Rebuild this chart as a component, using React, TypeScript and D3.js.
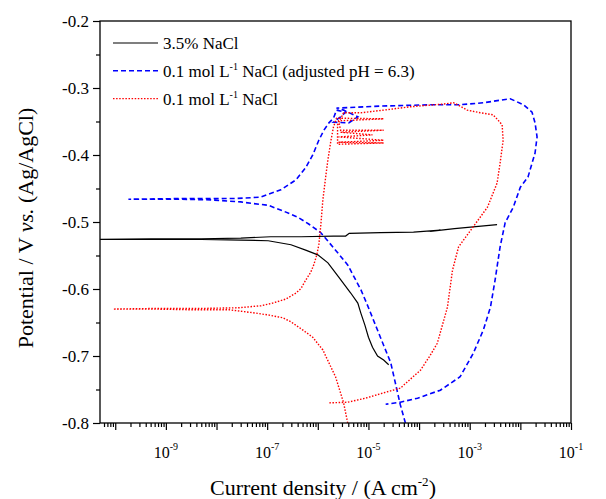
import * as d3 from 'd3';
import React, { useEffect, useRef } from 'react';

const W = 606;
const H = 499;
const margin = { top: 21, right: 35, bottom: 76, left: 100 };

// 3.5% NaCl (log10 of current density, potential V)
const blackLogI = [-4.60, -4.70, -4.82, -4.92, -5.00, -5.07, -5.15, -5.21, -5.35, -5.59, -5.80, -6.00, -6.24, -6.53, -6.98, -7.52, -8.30, -9.29, -10.3,
  -9.29, -8.30, -7.52, -6.93, -6.33, -5.69, -5.45, -5.38, -4.76, -4.11, -3.58, -3.78, -3.30, -2.46];
const blackE = [-0.713, -0.706, -0.700, -0.687, -0.672, -0.654, -0.636, -0.621, -0.606, -0.582, -0.561, -0.549, -0.542, -0.534, -0.528, -0.527, -0.526, -0.526, -0.526,
  -0.525, -0.525, -0.524, -0.522, -0.522, -0.521, -0.521, -0.517, -0.516, -0.515, -0.512, -0.514, -0.510, -0.504];

// 0.1 mol/L NaCl, adjusted pH = 6.3
const blueLogI = [-4.27, -4.37, -4.46, -4.56, -4.70, -4.86, -5.02, -5.15, -5.41, -5.65, -5.94, -6.18, -6.39, -6.67, -6.98, -7.32, -7.52, -8.11, -8.70, -9.74,
  -8.70, -7.65, -7.14, -6.73, -6.43, -6.24, -6.10, -5.98, -5.88, -5.78, -5.69,
  -5.63, -5.45, -5.55, -5.69, -5.39, -5.21, -5.49, -5.63,
  -4.76, -3.78, -3.19, -2.73, -2.20, -1.94, -1.77, -1.71, -1.67, -1.71, -1.85, -2.00, -2.14, -2.30, -2.40, -2.50, -2.59, -2.73, -2.93, -3.19, -3.58, -4.03, -4.37, -4.66];
const blueE = [-0.800, -0.773, -0.743, -0.710, -0.684, -0.654, -0.624, -0.601, -0.564, -0.542, -0.516, -0.503, -0.493, -0.484, -0.475, -0.472, -0.470, -0.467, -0.466, -0.466,
  -0.465, -0.465, -0.463, -0.452, -0.437, -0.419, -0.400, -0.378, -0.363, -0.352, -0.345,
  -0.333, -0.336, -0.343, -0.351, -0.352, -0.343, -0.333, -0.330,
  -0.327, -0.325, -0.325, -0.322, -0.316, -0.325, -0.336, -0.352, -0.373, -0.397, -0.433, -0.448, -0.478, -0.501, -0.537, -0.587, -0.627, -0.661, -0.696, -0.731, -0.751, -0.763, -0.769, -0.772];

// 0.1 mol/L NaCl
const redLogI = [-5.41, -5.49, -5.65, -5.90, -6.10, -6.30, -6.53, -6.69, -6.96, -7.22, -7.75, -8.50, -9.19, -10.04,
  -9.19, -8.30, -7.56, -7.12, -6.89, -6.63, -6.43, -6.33, -6.24, -6.14, -6.08, -6.02, -5.98, -5.94, -5.90, -5.84, -5.80, -5.74, -5.69, -5.63,
  -4.70, -5.59, -5.55, -4.70, -5.55, -4.92, -5.59, -4.70, -5.59, -4.70, -5.61, -5.61, -5.49,
  -5.15, -4.70, -4.17, -3.52, -3.32, -3.19, -3.05, -2.79, -2.54, -2.44, -2.36, -2.34, -2.40, -2.46, -2.65, -2.93, -3.22, -3.34, -3.44, -3.64, -3.78, -3.97, -4.37, -4.70, -5.06, -5.41, -5.80];
const redE = [-0.800, -0.770, -0.731, -0.691, -0.672, -0.661, -0.649, -0.643, -0.639, -0.636, -0.631, -0.631, -0.630, -0.630,
  -0.629, -0.629, -0.628, -0.625, -0.621, -0.615, -0.606, -0.599, -0.587, -0.575, -0.564, -0.549, -0.534, -0.504, -0.467, -0.430, -0.407, -0.378, -0.358, -0.345,
  -0.346, -0.349, -0.363, -0.363, -0.366, -0.370, -0.373, -0.378, -0.381, -0.382, -0.384, -0.355, -0.337,
  -0.337, -0.333, -0.328, -0.324, -0.322, -0.327, -0.333, -0.337, -0.340, -0.348, -0.355, -0.378, -0.412, -0.442, -0.478, -0.507, -0.537, -0.572, -0.627, -0.681, -0.699, -0.721, -0.748, -0.755, -0.763, -0.769, -0.770];

const yTicks = [-0.8, -0.7, -0.6, -0.5, -0.4, -0.3, -0.2];
const yMinor = [-0.75, -0.65, -0.55, -0.45, -0.35, -0.25];
const xDecades = [-10, -9, -8, -7, -6, -5, -4, -3, -2, -1];
const xLabelled = [-9, -7, -5, -3, -1];

const FONT = '"Liberation Serif", "Times New Roman", serif';

export default function App() {
  const ref = useRef<SVGSVGElement>(null);

  useEffect(() => {
    const svg = d3.select(ref.current);
    svg.selectAll('*').remove();
    svg.attr('font-family', FONT);
    const width = W - margin.left - margin.right;
    const height = H - margin.top - margin.bottom;
    const g = svg.append('g').attr('transform', `translate(${margin.left},${margin.top})`);

    const x = d3.scaleLog().domain([5e-11, 1e-1]).range([0, width]);
    const y = d3.scaleLinear().domain([-0.8, -0.2]).range([height, 0]);

    g.append('clipPath').attr('id', 'plotClip')
      .append('rect').attr('width', width).attr('height', height);

    const line = d3.line<number[]>()
      .x(d => x(Math.pow(10, d[0])))
      .y(d => y(d[1]));

    const series = [
      { logI: blackLogI, E: blackE, color: '#000000', dash: null, w: 1.2 },
      { logI: blueLogI, E: blueE, color: '#0000ff', dash: '5,3', w: 1.6 },
      { logI: redLogI, E: redE, color: '#ff0000', dash: '1.5,1.6', w: 1.4 },
    ];

    series.forEach(s => {
      g.append('path')
        .datum(d3.zip(s.logI, s.E))
        .attr('clip-path', 'url(#plotClip)')
        .attr('fill', 'none')
        .attr('stroke', s.color)
        .attr('stroke-width', s.w)
        .attr('stroke-dasharray', s.dash)
        .attr('d', line);
    });

    // x axis
    const minors: number[] = [];
    for (let e = -11; e <= -2; e++) {
      for (let m = 2; m <= 9; m++) {
        const v = m * Math.pow(10, e);
        if (v > 5.01e-11 && v < 0.1) minors.push(v);
      }
    }
    const xAxis = g.append('g').attr('transform', `translate(0,${height})`);
    xAxis.call(d3.axisBottom(x).tickValues(xDecades.map(e => Math.pow(10, e))).tickSize(7).tickFormat(() => ''));
    xAxis.append('g').call(d3.axisBottom(x).tickValues(minors).tickSize(4).tickFormat(() => ''));
    xAxis.selectAll('.domain').remove();
    xAxis.selectAll('line').attr('stroke', '#000').attr('stroke-width', 1.2);

    xLabelled.forEach(e => {
      const t = g.append('text')
        .attr('x', x(Math.pow(10, e)))
        .attr('y', height + 35)
        .attr('text-anchor', 'middle')
        .style('font-family', FONT)
        .style('font-size', '16px')
        .attr('fill', '#000');
      t.append('tspan').text('10');
      t.append('tspan').style('font-size', '10px').attr('dy', -8).text(String(e));
    });

    // y axis
    const yAxis = g.append('g');
    yAxis.call(d3.axisLeft(y).tickValues(yTicks).tickSize(7).tickFormat(d => (+d).toFixed(1)));
    yAxis.append('g').call(d3.axisLeft(y).tickValues(yMinor).tickSize(4).tickFormat(() => ''));
    yAxis.attr('font-family', FONT);
    yAxis.selectAll('.domain').remove();
    yAxis.selectAll('line').attr('stroke', '#000').attr('stroke-width', 1.2);
    yAxis.selectAll('text')
      .style('font-family', FONT)
      .style('font-size', '17px')
      .attr('fill', '#000')
      .attr('x', -11);

    // frame
    g.append('rect')
      .attr('width', width).attr('height', height)
      .attr('fill', 'none').attr('stroke', '#000').attr('stroke-width', 1.3);

    // axis titles
    const xt = svg.append('text')
      .attr('x', 323).attr('y', 495)
      .attr('text-anchor', 'middle')
      .style('font-family', FONT).style('font-size', '22px').attr('fill', '#000');
    xt.append('tspan').text('Current density / (A cm');
    xt.append('tspan').style('font-size', '13px').attr('dy', -9).text('-2');
    xt.append('tspan').attr('dy', 9).text(')');

    const yt = svg.append('text')
      .attr('transform', 'translate(33,228) rotate(-90)')
      .attr('text-anchor', 'middle')
      .style('font-family', FONT).style('font-size', '22px').attr('fill', '#000');
    yt.append('tspan').text('Potential / V ');
    yt.append('tspan').style('font-style', 'italic').text('vs.');
    yt.append('tspan').text(' (Ag/AgCl)');

    // legend
    const legend = [
      { color: '#000000', dash: null, w: 1.2, parts: [['3.5% NaCl', false]] },
      { color: '#0000ff', dash: '5,3', w: 1.6, parts: [['0.1 mol L', false], ['-1', true], [' NaCl (adjusted pH = 6.3)', false]] },
      { color: '#ff0000', dash: '1.5,1.6', w: 1.4, parts: [['0.1 mol L', false], ['-1', true], [' NaCl', false]] },
    ];
    legend.forEach((l, i) => {
      const cy = 43 + i * 27.8;
      svg.append('line')
        .attr('x1', 113).attr('x2', 158).attr('y1', cy).attr('y2', cy)
        .attr('stroke', l.color).attr('stroke-width', l.w).attr('stroke-dasharray', l.dash);
      const t = svg.append('text')
        .attr('x', 163).attr('y', cy + 6)
        .style('font-family', FONT).style('font-size', '17px').attr('fill', '#000');
      l.parts.forEach(([s, sup], k) => {
        if (sup) {
          t.append('tspan').style('font-size', '10px').attr('dy', -7).text(s as string);
        } else {
          const sp = t.append('tspan').text(s as string);
          if (k > 0) sp.attr('dy', 7);
        }
      });
    });
  }, []);

  return (
    <div>
      <style>{'body{margin:0}'}</style>
      <svg ref={ref} width={W} height={H} style={{ display: 'block', background: '#fff' }} />
    </div>
  );
}
